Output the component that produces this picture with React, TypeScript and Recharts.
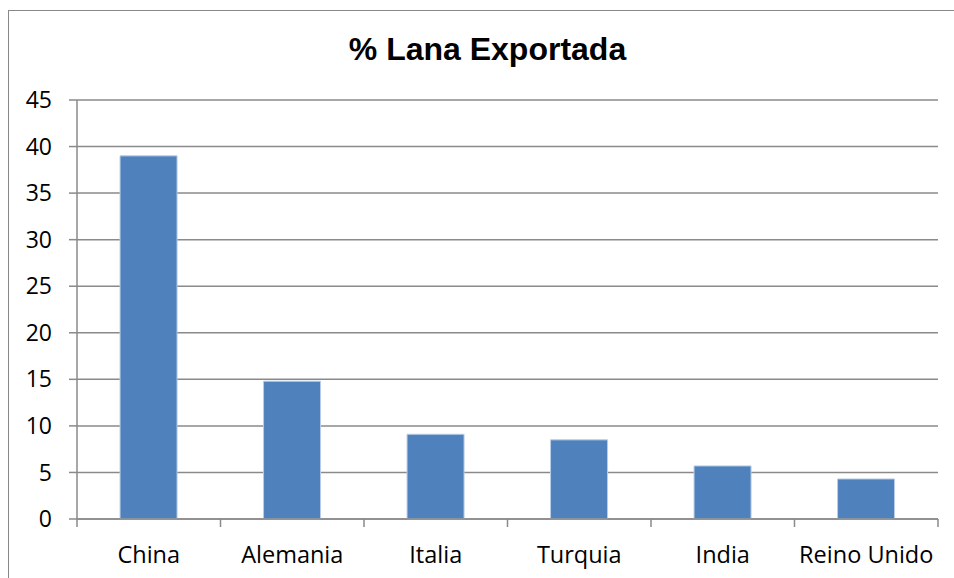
import { BarChart, Bar, XAxis, YAxis, CartesianGrid } from 'recharts'

const countries = ['China', 'Alemania', 'Italia', 'Turquia', 'India', 'Reino Unido']
const exported = [39, 14.8, 9.1, 8.5, 5.7, 4.3]
const yTicks = [0, 5, 10, 15, 20, 25, 30, 35, 40, 45]

const data = countries.map((name, i) => ({ name, value: exported[i] }))

const GRID = '#8a8a8a'
const LABEL_FONT = '"Open Sans", "Noto Sans", sans-serif'

// tick marks sit on the category boundaries, labels in the middle
function CategoryTick(props: any) {
  const { x, y, payload, index, visibleTicksCount } = props
  const half = payload?.offset ?? 0
  const top = y - 8
  return (
    <g>
      <line x1={x - half} x2={x - half} y1={top} y2={top + 8} stroke={GRID} strokeWidth={1.5} />
      {index === visibleTicksCount - 1 && (
        <line x1={x + half} x2={x + half} y1={top} y2={top + 8} stroke={GRID} strokeWidth={1.5} />
      )}
      <text x={x} y={top + 44} textAnchor="middle" fontSize={23.5} fontFamily={LABEL_FONT} fill="#000">
        {payload.value}
      </text>
    </g>
  )
}

export default function App() {
  return (
    <div
      style={{
        position: 'fixed',
        left: 0,
        top: 0,
        width: 954,
        height: 578,
        overflow: 'hidden',
        background: '#fff',
      }}
    >
      <div
        style={{
          position: 'absolute',
          left: 8,
          top: 10,
          right: 0,
          bottom: 0,
          borderLeft: '1px solid #888',
          borderTop: '1px solid #888',
        }}
      />
      <div
        style={{
          position: 'absolute',
          left: 0,
          top: 0,
          width: 975,
          textAlign: 'center',
          fontFamily: '"Liberation Sans", Arial, sans-serif',
          fontWeight: 'bold',
          fontSize: 32,
          lineHeight: '32px',
          paddingTop: 33,
        }}
      >
        % Lana Exportada
      </div>
      <div style={{ position: 'absolute', left: 0, top: 0 }}>
        <BarChart
          width={954}
          height={578}
          data={data}
          margin={{ top: 100, right: 16, bottom: 19, left: 17 }}
          barCategoryGap="30%"
        >
          <CartesianGrid vertical={false} stroke={GRID} strokeWidth={1.5} />
          <XAxis
            dataKey="name"
            height={40}
            stroke={GRID}
            strokeWidth={1.5}
            tickLine={false}
            tickSize={8}
            tickMargin={0}
            interval={0}
            tick={<CategoryTick />}
          />
          <YAxis
            width={60}
            domain={[0, 45]}
            ticks={yTicks}
            interval={0}
            stroke={GRID}
            strokeWidth={1.5}
            tickSize={8}
            tickMargin={17}
            tick={{ fill: '#000', fontSize: 23, fontFamily: LABEL_FONT }}
          />
          <Bar dataKey="value" fill="#4f81bd" stroke="#b9cde5" strokeWidth={1} isAnimationActive={false} />
        </BarChart>
      </div>
    </div>
  )
}
